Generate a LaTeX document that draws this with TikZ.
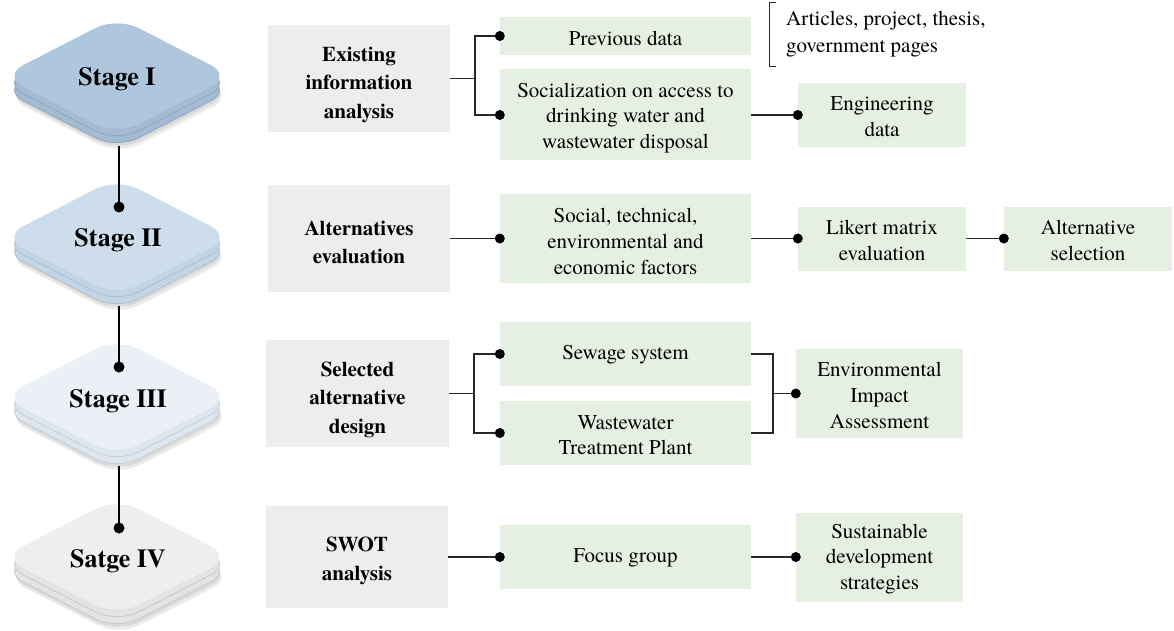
\documentclass[tikz,border=0pt]{standalone}
\usepackage{fontspec}
\setmainfont{texgyretermes}[Extension=.otf, UprightFont=*-regular, BoldFont=*-bold, ItalicFont=*-italic, BoldItalicFont=*-bolditalic]
\definecolor{boxgray}{HTML}{EDEDED}
\definecolor{boxgreen}{HTML}{E6F0E2}
\definecolor{sItop}{HTML}{AFC7DD}
\definecolor{sIside}{HTML}{A2BBD3}
\definecolor{sIedge}{HTML}{8CA6BF}
\definecolor{sIItop}{HTML}{CEDDEB}
\definecolor{sIIside}{HTML}{C3D4E5}
\definecolor{sIIedge}{HTML}{A9BDD2}
\definecolor{sIIItop}{HTML}{EAF0F6}
\definecolor{sIIIside}{HTML}{DDE5ED}
\definecolor{sIIIedge}{HTML}{C3CDD8}
\definecolor{sIVtop}{HTML}{EEEEEE}
\definecolor{sIVside}{HTML}{E3E3E3}
\definecolor{sIVedge}{HTML}{C6C6C6}
\newcommand\dlayer[2]{\path[#1,shift={(0,#2)}] (-57.5,-29.5) -- (0,-59) -- (115,0) -- (0,59) -- (-115,0) -- cycle;}
\newcommand\stageshape[5]{%
  \begin{scope}[shift={(#1,#2)}]
    \dlayer{fill=black,opacity=0.08,rounded corners=24pt,xshift=2pt}{20}
    \dlayer{fill=black,opacity=0.08,rounded corners=24pt,xshift=1pt}{17}
    \dlayer{fill=#4,draw=#5,line width=0.7pt,rounded corners=24pt}{14}
    \dlayer{fill=#4,draw=#5,line width=0.7pt,rounded corners=24pt}{7}
    \dlayer{fill=#3,rounded corners=24pt}{0}
  \end{scope}}
\begin{document}
\begin{tikzpicture}[x=1pt,y=-1pt,
  graybox/.style={rectangle, fill=boxgray, inner sep=0pt},
  greenbox/.style={rectangle, fill=boxgreen, inner sep=0pt},
  graytext/.style={inner sep=0pt, align=center,
    font=\bfseries\fontsize{21}{28.5}\selectfont},
  greentext/.style={inner sep=0pt, align=center,
    font=\fontsize{21}{25.7}\selectfont},
  stagelbl/.style={inner sep=0pt, font=\bfseries\fontsize{26}{30}\selectfont},
  bracetext/.style={inner sep=0pt, align=left, font=\fontsize{21}{27.5}\selectfont},
  conn/.style={line width=1.3pt, draw=black!85},
  stageconn/.style={line width=2.6pt, draw=black},
  dot/.style={circle, fill=black, inner sep=0pt, minimum size=10pt},
  sdot/.style={circle, fill=black, inner sep=0pt, minimum size=11pt}]
\useasboundingbox (0,0) rectangle (1174,631);

% stage shapes
\stageshape{117}{76}{sItop}{sIside}{sIedge}
\stageshape{117}{237}{sIItop}{sIIside}{sIIedge}
\stageshape{117}{397}{sIIItop}{sIIIside}{sIIIedge}
\stageshape{117}{557}{sIVtop}{sIVside}{sIVedge}

\node[stagelbl, anchor=base] (s1) at (117,86) {Stage I};
\node[stagelbl, anchor=base] (s2) at (118,246) {Stage II};
\node[stagelbl, anchor=base] (s3) at (118,407) {Stage III};
\node[stagelbl, anchor=base] (s4) at (118,567) {Satge IV};

% stage connectors
\coordinate (s1b) at (119,146);
\coordinate (s2t) at (119,207);
\coordinate (s2b) at (119,306);
\coordinate (s3t) at (119,367);
\coordinate (s3b) at (119,466);
\coordinate (s4t) at (119,528);
\draw[stageconn] (s1b) -- (s2t);
\draw[stageconn] (s2b) -- (s3t);
\draw[stageconn] (s3b) -- (s4t);
\node[sdot] (ds2) at (s2t) {};
\node[sdot] (ds3) at (s3t) {};
\node[sdot] (ds4) at (s4t) {};

% gray boxes
\node[graybox, minimum width=182pt, minimum height=107pt] (g1) at (359,78.5) {};
\node[graybox, minimum width=182pt, minimum height=106pt] (g2) at (359,238.5) {};
\node[graybox, minimum width=183pt, minimum height=107pt] (g3) at (357.5,393.5) {};
\node[graybox, minimum width=182pt, minimum height=102pt] (g4) at (357,557) {};
\node[graytext] (tg1) at ([yshift=-6pt]g1.center) {Existing\\information\\analysis};
\node[graytext] (tg2) at ([yshift=-4pt]g2.center) {Alternatives\\evaluation};
\node[graytext] (tg3) at ([yshift=-6pt]g3.center) {Selected\\alternative\\design};
\node[graytext] (tg4) at ([yshift=-4pt]g4.center) {SWOT\\analysis};

% green boxes
\node[greenbox, minimum width=251pt, minimum height=38pt] (prev) at (625.5,36) {};
\node[greenbox, minimum width=251pt, minimum height=91pt] (soc) at (625.5,115) {};
\node[greenbox, minimum width=168pt, minimum height=64pt] (eng) at (882,115) {};
\node[greenbox, minimum width=251pt, minimum height=89pt] (fac) at (625.5,238.5) {};
\node[greenbox, minimum width=168pt, minimum height=64pt] (lik) at (882,238.5) {};
\node[greenbox, minimum width=168pt, minimum height=64pt] (alt) at (1088,238.5) {};
\node[greenbox, minimum width=251pt, minimum height=64pt] (sew) at (625.5,354) {};
\node[greenbox, minimum width=251pt, minimum height=64pt] (wtp) at (625.5,433) {};
\node[greenbox, minimum width=167pt, minimum height=89pt] (eia) at (879.5,393.5) {};
\node[greenbox, minimum width=251pt, minimum height=64pt] (foc) at (625.5,557) {};
\node[greenbox, minimum width=167pt, minimum height=89pt] (sus) at (879.5,557) {};

\node[greentext] (tprev) at ([yshift=-2.5pt]prev.center) {Previous data};
\node[greentext] (tsoc) at ([yshift=-3pt]soc.center) {Socialization on access to\\drinking water and\\wastewater disposal};
\node[greentext] (teng) at ([yshift=-2pt]eng.center) {Engineering\\data};
\node[greentext] (tfac) at ([yshift=-3pt]fac.center) {Social, technical,\\environmental and\\economic factors};
\node[greentext] (tlik) at ([yshift=-2pt]lik.center) {Likert matrix\\evaluation};
\node[greentext] (talt) at ([yshift=-2pt]alt.center) {Alternative\\selection};
\node[greentext] (tsew) at ([yshift=-1pt]sew.center) {Sewage system};
\node[greentext] (twtp) at ([yshift=-2pt]wtp.center) {Wastewater\\Treatment Plant};
\node[greentext] (teia) at ([yshift=-2pt]eia.center) {Environmental\\Impact\\Assessment};
\node[greentext] (tfoc) at ([yshift=-1pt]foc.center) {Focus group};
\node[greentext] (tsus) at ([yshift=-2pt]sus.center) {Sustainable\\development\\strategies};

% bracket note
\node[bracetext, anchor=west] (art) at (786,34) {Articles, project, thesis,\\government pages};
\coordinate (bt) at (776,3);
\coordinate (bb) at (776,67);
\draw[line width=1pt, draw=black!85] (bt) -- ++(-7,0) |- (bb);

% connectors stage I
\coordinate (j1) at (475,78.5);
\draw[conn] (g1.east) -- (j1) |- (prev.west);
\draw[conn] (j1) |- (soc.west);
\node[dot] (d1) at (prev.west) {};
\node[dot] (d2) at (soc.west) {};
\draw[conn] (soc.east) -- (eng.west);
\node[dot] (d3) at (eng.west) {};

% connectors stage II
\draw[conn] (g2.east) -- (fac.west);
\node[dot] (d4) at (fac.west) {};
\draw[conn] (fac.east) -- (lik.west);
\node[dot] (d5) at (lik.west) {};
\draw[conn] (lik.east) -- (alt.west);
\node[dot] (d6) at (alt.west) {};

% connectors stage III
\coordinate (j3) at (474,393.5);
\draw[conn] (g3.east) -- (j3) |- (sew.west);
\draw[conn] (j3) |- (wtp.west);
\node[dot] (d7) at (sew.west) {};
\node[dot] (d8) at (wtp.west) {};
\coordinate (j3r) at (773,393.5);
\draw[conn] (sew.east) -| (j3r);
\draw[conn] (wtp.east) -| (j3r);
\draw[conn] (j3r) -- (eia.west);
\node[dot] (d9) at (eia.west) {};

% connectors stage IV
\draw[conn] (g4.east) -- (foc.west);
\node[dot] (d10) at (foc.west) {};
\draw[conn] (foc.east) -- (sus.west);
\node[dot] (d11) at (sus.west) {};
\end{tikzpicture}
\end{document}
